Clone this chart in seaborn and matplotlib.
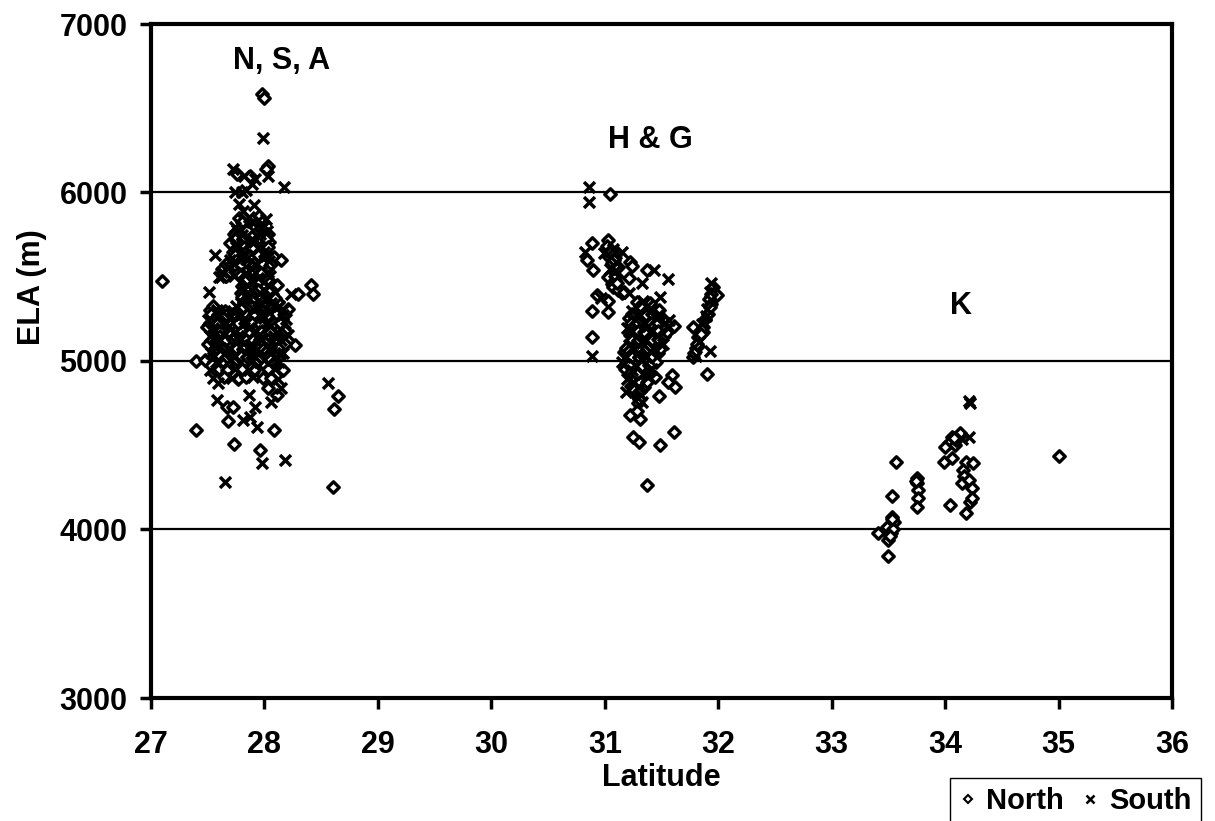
import matplotlib
matplotlib.use("Agg")
import matplotlib.pyplot as plt
from matplotlib.lines import Line2D
import pandas as pd
import seaborn as sns

# Equilibrium-line altitudes (latitude in degrees N, ELA in m) by glacier aspect

# Nepal, Sikkim, Assam ranges
nsa_north = [
    (27.10, 5476), (27.98, 6585), (28.00, 6560), (28.03, 6157), (28.01, 6139),
    (27.76, 6110), (27.87, 6100), (27.70, 5700), (28.08, 5615), (28.15, 5600),
    (28.11, 5450), (28.41, 5450), (28.43, 5395), (28.30, 5395), (27.54, 5195),
    (28.27, 5095), (27.40, 5000), (27.96, 4936), (27.99, 4897), (28.03, 4838),
    (28.11, 4798), (27.67, 4729), (27.72, 4729), (27.68, 4645), (27.40, 4592),
    (28.08, 4592), (27.73, 4507), (27.96, 4472), (28.60, 4254), (28.65, 4792),
    (28.61, 4713),
    (27.78, 5846), (27.95, 5858), (27.83, 5805), (27.92, 5796),
    (27.73, 5752), (27.88, 5744), (28.03, 5756), (27.84, 5703), (27.98, 5695),
    (28.04, 5708), (27.72, 5648), (27.86, 5655), (27.93, 5642), (27.77, 5604),
    (27.90, 5597), (27.97, 5606), (27.63, 5548), (27.75, 5553), (27.82, 5545),
    (27.95, 5556), (28.02, 5547), (27.66, 5502), (27.80, 5496), (27.87, 5505),
    (28.00, 5498), (27.80, 5446), (27.91, 5455), (27.98, 5448),
    (27.79, 5403), (27.90, 5396), (28.02, 5405), (28.07, 5398), (27.82, 5352),
    (27.88, 5345), (28.00, 5356), (28.12, 5349), (27.52, 5302), (27.65, 5297),
    (27.78, 5305), (27.85, 5296), (27.97, 5303), (28.09, 5298), (28.21, 5306),
    (27.56, 5253), (27.63, 5246), (27.75, 5255), (27.88, 5248), (27.94, 5252),
    (28.06, 5245), (28.13, 5256), (27.49, 5203), (27.61, 5197), (27.74, 5205),
    (27.80, 5196), (27.92, 5204), (27.99, 5198), (28.11, 5202), (28.17, 5195),
    (27.58, 5152), (27.71, 5146), (27.83, 5155), (27.89, 5148), (28.02, 5153),
    (28.15, 5145), (27.50, 5098), (27.62, 5104), (27.68, 5096), (27.81, 5102),
    (27.93, 5097), (28.00, 5105), (28.12, 5099), (28.18, 5103), (27.60, 5053),
    (27.72, 5046), (27.78, 5055), (27.90, 5048), (28.03, 5052), (28.09, 5045),
    (27.48, 5004), (27.63, 4996), (27.76, 5003), (27.82, 4997), (27.94, 5005),
    (28.06, 4998), (27.60, 4953), (27.67, 4946), (27.80, 4955), (27.91, 4948),
    (28.03, 4952), (28.16, 4945), (27.64, 4903), (27.77, 4896), (27.84, 4905),
    (28.06, 4898),
    (27.80, 5826), (27.98, 5822), (27.85, 5777), (27.94, 5772), (27.74, 5727),
    (27.81, 5722), (27.95, 5728), (28.01, 5724), (27.82, 5676), (27.89, 5673),
    (28.03, 5678), (27.74, 5627), (27.87, 5622), (27.94, 5628), (27.66, 5577),
    (27.79, 5572), (27.86, 5578), (27.99, 5574), (28.06, 5576), (27.70, 5527),
    (27.77, 5522), (27.91, 5528), (27.97, 5523), (27.83, 5477), (27.95, 5472),
    (28.02, 5478), (27.87, 5427), (27.94, 5422), (28.05, 5428), (27.80, 5377),
    (27.91, 5372), (27.97, 5378), (28.09, 5374), (27.55, 5327), (27.81, 5322),
    (27.88, 5328), (28.00, 5324), (28.06, 5326), (27.53, 5277), (27.66, 5272),
    (27.72, 5278), (27.85, 5274), (27.91, 5276), (28.03, 5272), (28.10, 5278),
    (27.52, 5227), (27.58, 5222), (27.71, 5228), (27.77, 5224), (27.89, 5226),
    (27.96, 5222), (28.08, 5228), (28.14, 5224), (27.61, 5177), (27.68, 5172),
    (27.80, 5178), (27.86, 5174), (27.98, 5176), (28.05, 5172), (28.18, 5178),
    (27.54, 5127), (27.66, 5122), (27.72, 5128), (27.84, 5124), (27.90, 5126),
    (28.03, 5122), (28.09, 5128), (27.57, 5077), (27.63, 5072), (27.75, 5078),
    (27.81, 5074), (27.93, 5076), (27.99, 5072), (28.12, 5078), (27.61, 5027),
    (27.67, 5022), (27.79, 5028), (27.85, 5024), (27.97, 5026), (28.03, 5022),
]
nsa_south = [
    (27.99, 6322), (27.72, 6140), (27.82, 6095), (27.92, 6080), (28.03, 6100),
    (27.89, 6050), (28.17, 6034), (27.74, 6003), (27.80, 6000), (27.84, 6015),
    (27.78, 5930), (27.91, 5926), (27.81, 5890), (28.00, 5800), (27.56, 5629),
    (27.62, 5500), (28.23, 5395), (27.51, 5411), (28.14, 5040), (27.55, 4897),
    (27.59, 4870), (28.15, 4838), (27.58, 4768), (27.86, 4798), (27.92, 4729),
    (28.06, 4758), (27.81, 4650), (27.87, 4670), (27.93, 4610), (27.98, 4393),
    (28.18, 4413), (27.65, 4280), (28.56, 4871),
    (27.86, 5853), (28.01, 5844), (27.74, 5798), (27.99, 5806), (27.80, 5747),
    (27.96, 5753), (27.76, 5696), (27.91, 5704), (27.79, 5653), (28.00, 5645),
    (27.70, 5598), (27.84, 5603), (28.04, 5595), (27.68, 5555), (27.89, 5546),
    (27.60, 5497), (27.73, 5504), (27.94, 5495), (28.05, 5503),
    (27.85, 5454), (28.04, 5446), (27.84, 5396), (27.96, 5404), (27.79, 5347),
    (27.94, 5354), (28.06, 5345), (27.58, 5304), (27.72, 5296), (27.91, 5305),
    (28.03, 5297), (28.16, 5303), (27.50, 5246), (27.69, 5254), (27.82, 5247),
    (28.00, 5255), (28.19, 5248), (27.55, 5196), (27.68, 5204), (27.86, 5197),
    (28.05, 5205), (27.52, 5147), (27.64, 5154), (27.77, 5146), (27.95, 5153),
    (28.08, 5148), (28.21, 5155), (27.56, 5097), (27.75, 5105), (27.87, 5096),
    (28.06, 5104), (27.53, 5047), (27.66, 5054), (27.84, 5046), (27.96, 5055),
    (28.16, 5047), (27.57, 4996), (27.70, 5005), (27.88, 4997), (28.00, 5004),
    (28.13, 4996), (27.52, 4946), (27.74, 4954), (27.86, 4947), (28.09, 4955),
    (27.71, 4897), (27.90, 4904), (28.12, 4896),
    (27.89, 5824), (27.76, 5776), (28.02, 5773), (27.89, 5726), (27.75, 5674),
    (27.96, 5677), (27.81, 5624), (28.01, 5626), (27.73, 5575), (27.92, 5573),
    (27.63, 5526), (27.84, 5524), (28.03, 5527), (27.89, 5474), (27.82, 5426),
    (28.00, 5423), (27.85, 5376), (28.03, 5373), (27.75, 5326), (27.94, 5323),
    (28.13, 5327), (27.60, 5276), (27.79, 5273), (27.97, 5277), (28.16, 5274),
    (27.65, 5226), (27.83, 5223), (28.02, 5227), (27.55, 5176), (27.74, 5173),
    (27.92, 5177), (28.11, 5174), (27.60, 5126), (27.78, 5123), (27.97, 5127),
    (28.15, 5124), (27.69, 5076), (27.87, 5073), (28.06, 5077), (27.55, 5026),
    (27.73, 5023), (27.91, 5027), (28.10, 5024),
]

# Himachal & Garhwal
hg_north = [
    (31.05, 5991), (30.89, 5700), (30.84, 5600), (31.03, 5718), (31.22, 5589),
    (31.24, 5565), (30.90, 5540), (31.37, 5540), (31.21, 5491), (31.05, 5510),
    (31.06, 5455), (30.93, 5392), (31.03, 5355), (31.15, 5402), (30.89, 5298),
    (31.03, 5290), (30.89, 5140), (31.59, 4917), (31.56, 4877), (31.62, 4848),
    (31.48, 4790), (31.22, 4679), (31.31, 4655), (31.25, 4551), (31.30, 4521),
    (31.49, 4501), (31.61, 4580), (31.37, 4264), (31.99, 5392), (31.78, 5200),
    (31.87, 5170), (31.78, 5026), (31.90, 4920),
    (31.02, 5680), (31.09, 5630), (31.04, 5620), (31.06, 5580), (31.12, 5560),
    (31.03, 5500), (31.09, 5480), (31.07, 5440), (31.12, 5420), (31.17, 5410),
    (31.28, 5352), (31.40, 5346), (31.30, 5304), (31.36, 5296), (31.48, 5302),
    (31.21, 5254), (31.33, 5246), (31.39, 5253), (31.51, 5247), (31.26, 5204),
    (31.32, 5196), (31.44, 5203), (31.50, 5197), (31.61, 5205), (31.22, 5153),
    (31.34, 5146), (31.40, 5155), (31.52, 5148), (31.27, 5104), (31.39, 5097),
    (31.45, 5103), (31.17, 5054), (31.23, 5046), (31.35, 5053), (31.47, 5047),
    (31.21, 5004), (31.27, 4996), (31.39, 5003), (31.45, 4997), (31.18, 4953),
    (31.30, 4946), (31.36, 4955), (31.26, 4904), (31.32, 4896), (31.44, 4903),
    (31.23, 4853), (31.35, 4846), (31.27, 4803), (31.29, 4752), (31.28, 4705),
    (31.95, 5440), (31.92, 5370), (31.94, 5340), (31.91, 5280), (31.88, 5250),
    (31.84, 5180), (31.82, 5140), (31.80, 5080), (31.79, 5050),
    (31.31, 5326), (31.24, 5276), (31.36, 5273), (31.42, 5277), (31.23, 5226),
    (31.29, 5223), (31.41, 5227), (31.47, 5224), (31.29, 5176), (31.35, 5173),
    (31.47, 5177), (31.55, 5174), (31.24, 5126), (31.30, 5123), (31.42, 5127),
    (31.48, 5124), (31.19, 5076), (31.31, 5073), (31.37, 5077), (31.49, 5074),
    (31.24, 5026), (31.30, 5023), (31.42, 5027), (31.21, 4976), (31.33, 4973),
    (31.39, 4977), (31.22, 4926), (31.28, 4923), (31.40, 4927), (31.31, 4876),
    (31.37, 4873), (31.26, 4826), (31.31, 4823), (31.30, 4776),
    (31.05, 5650), (31.08, 5600), (31.10, 5505), (31.11, 5460),
    (31.94, 5400), (31.93, 5320), (31.87, 5200), (31.85, 5160), (31.81, 5100),
]
hg_south = [
    (30.86, 6034), (30.86, 5945), (30.83, 5648), (30.99, 5640), (31.15, 5648),
    (31.43, 5540), (31.56, 5488), (31.33, 5461), (31.21, 5402), (31.49, 5382),
    (30.89, 5028), (31.19, 4818), (31.94, 5462), (31.93, 5060), (30.97, 5375),
    (31.07, 5665), (31.10, 5590), (31.08, 5530),
    (31.34, 5355), (31.24, 5297), (31.42, 5305), (31.27, 5248), (31.45, 5255),
    (31.57, 5246), (31.20, 5196), (31.38, 5205), (31.56, 5198), (31.28, 5147),
    (31.46, 5154), (31.21, 5096), (31.33, 5105), (31.51, 5098), (31.29, 5046),
    (31.41, 5055), (31.15, 4996), (31.33, 5004), (31.24, 4947), (31.42, 4954),
    (31.20, 4896), (31.38, 4905), (31.29, 4848), (31.32, 4797), (31.33, 4755),
    (31.93, 5410), (31.90, 5310), (31.86, 5220), (31.83, 5110),
    (31.37, 5324), (31.30, 5274), (31.48, 5276), (31.35, 5224), (31.53, 5226),
    (31.23, 5174), (31.41, 5176), (31.36, 5124), (31.25, 5074), (31.43, 5076),
    (31.18, 5024), (31.36, 5026), (31.27, 4974), (31.34, 4924), (31.25, 4874),
    (31.05, 5545), (31.89, 5265), (31.80, 5030),
]

# Karakoram
k_north = [
    (35.00, 4436), (34.13, 4570), (34.06, 4551), (34.03, 4511), (34.09, 4501),
    (34.00, 4490), (34.10, 4530), (34.08, 4545), (33.99, 4402), (34.06, 4422),
    (33.57, 4398), (34.18, 4402), (34.25, 4396), (34.16, 4353), (34.17, 4320),
    (34.15, 4274), (34.21, 4294), (34.24, 4244), (34.22, 4165), (34.24, 4185),
    (34.04, 4145), (34.18, 4096), (33.75, 4304), (33.75, 4274), (33.76, 4234),
    (33.76, 4185), (33.75, 4135), (33.74, 4290), (33.53, 4199), (33.53, 4076),
    (33.55, 4046), (33.49, 4017), (33.52, 3977), (33.50, 3937), (33.41, 3977),
    (33.54, 4000), (33.51, 3960), (33.53, 4060), (33.50, 3843),
]
k_south = [(34.21, 4760), (34.22, 4748), (34.21, 4551), (34.15, 4540)]

region_names = ["N, S, A", "H & G", "K"]
region_lat = [28.155, 31.40, 34.14]
region_ela = [6780, 6310, 5326]

lat_ticks = [27, 28, 29, 30, 31, 32, 33, 34, 35, 36]
ela_ticks = [3000, 4000, 5000, 6000, 7000]
aspects = ["North", "South"]

rows = []
for aspect, groups in zip(aspects, [[nsa_north, hg_north, k_north],
                                    [nsa_south, hg_south, k_south]]):
    for group in groups:
        for lat, ela in group:
            rows.append((aspect, lat, ela))
df = pd.DataFrame(rows, columns=["Aspect", "Latitude", "ELA"])

sns.set_style("ticks")
plt.rcParams["font.family"] = ["Liberation Sans", "DejaVu Sans"]
plt.rcParams["font.weight"] = "bold"
for key in ["text.color", "axes.labelcolor", "xtick.color", "ytick.color",
            "xtick.labelcolor", "ytick.labelcolor"]:
    plt.rcParams[key] = "black"
FS = 22

fig = plt.figure(figsize=(12.15, 8.21), dpi=100)
ax = fig.add_axes([151 / 1215, 1 - 698 / 821, (1172 - 151) / 1215, (698 - 24) / 821])

sns.scatterplot(data=df[df["Aspect"] == "North"], x="Latitude", y="ELA",
                marker="D", s=34, facecolor="white", edgecolor="black",
                linewidth=2.4, ax=ax, legend=False, zorder=3)
sns.scatterplot(data=df[df["Aspect"] == "South"], x="Latitude", y="ELA",
                marker="x", s=62, color="black", linewidth=2.5,
                ax=ax, legend=False, zorder=4)

for name, lat, ela in zip(region_names, region_lat, region_ela):
    ax.text(lat, ela, name, ha="center", va="center", fontsize=FS,
            fontweight="bold", color="black")

ax.set_xlim(lat_ticks[0], lat_ticks[-1])
ax.set_ylim(ela_ticks[0], ela_ticks[-1])
ax.set_xticks(lat_ticks)
ax.set_yticks(ela_ticks)
ax.set_xticklabels([str(t) for t in lat_ticks])
ax.set_yticklabels([str(t) for t in ela_ticks])

ax.set_axisbelow(True)
ax.yaxis.grid(True, color="black", linewidth=1.6)
ax.xaxis.grid(False)
for side in ["left", "right", "top", "bottom"]:
    ax.spines[side].set_visible(True)
    ax.spines[side].set_linewidth(3)
    ax.spines[side].set_color("black")

ax.tick_params(axis="both", direction="out", length=8, width=2.5,
               color="black", labelcolor="black", labelsize=FS)
ax.tick_params(axis="x", pad=15)
ax.tick_params(axis="y", pad=9)
for lab in ax.get_xticklabels() + ax.get_yticklabels():
    lab.set_fontweight("bold")

ax.set_xlabel("Latitude", fontsize=FS, fontweight="bold", labelpad=2, color="black")
ax.set_ylabel("ELA (m)", fontsize=FS, fontweight="bold", color="black")
ax.yaxis.set_label_coords(-0.102, 0.61)

handles = [
    Line2D([], [], marker="D", ls="none", ms=4, mfc="white", mec="black", mew=1.5),
    Line2D([], [], marker="x", ls="none", ms=6, mec="black", mew=1.8),
]
leg = fig.legend(handles, aspects, loc="upper left",
                 bbox_to_anchor=(950 / 1215, 1 - 778 / 821), ncol=2,
                 frameon=True, fancybox=False, framealpha=1, edgecolor="black",
                 prop={"family": "Liberation Sans", "weight": "bold", "size": 21},
                 handlelength=0.6, handletextpad=0.35, columnspacing=0.6,
                 borderpad=0.3, borderaxespad=0)
leg.get_frame().set_linewidth(1.0)
for t in leg.get_texts():
    t.set_color("black")

fig.savefig("out.png", dpi=100, facecolor="white")
